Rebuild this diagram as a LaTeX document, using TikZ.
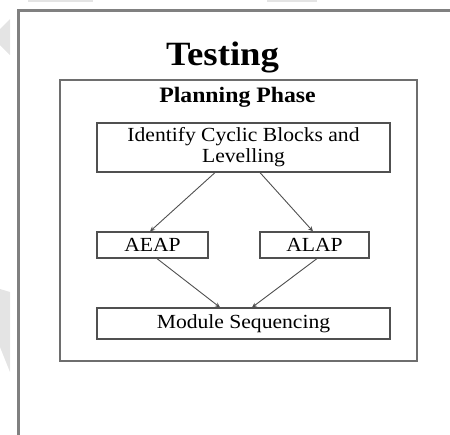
\documentclass[tikz,border=0pt]{standalone}
\usepackage{fontspec}
\setmainfont{Liberation Serif}[FakeStretch=1.08]
\usetikzlibrary{arrows.meta}
\definecolor{framegray}{RGB}{128,128,128}
\definecolor{phasegray}{RGB}{110,110,110}
\definecolor{boxgray}{RGB}{80,80,80}
\definecolor{markgray}{RGB}{228,228,228}
\tikzset{
  stagebox/.style={draw=boxgray,line width=1.2pt,inner sep=0pt,font=\fontsize{20}{21}\selectfont,align=center},
  flowarrow/.style={draw=boxgray,line width=0.9pt,-{Stealth[length=5pt,width=4.5pt]}}
}
\begin{document}
\begin{tikzpicture}[x=1pt,y=-1pt]
    \useasboundingbox (0,0) rectangle (450,434);
    \clip (0,0) rectangle (450,434);
    %Shape: Polygon [grey marks]
    \fill[markgray] (28,0) rectangle (93,2) ;
    \fill[markgray] (267,0) rectangle (317,2) ;
    \fill[markgray] (10,19) -- (0,29) -- (0,45) -- (10,55) -- cycle ;
    \fill[markgray] (0,289) -- (10,292) -- (10,372) -- (0,347) -- cycle ;
    %Shape: Rectangle [outer frame]
    \draw[framegray,line width=2.5pt] (18.5,440) -- (18.5,10.5) -- (460,10.5) ;
    % Text Node
    \node[anchor=base,font=\fontsize{34}{34}\selectfont\bfseries] (title) at (222.5,65) {Testing};
    %Shape: Rectangle [phase frame]
    \draw[phasegray,line width=1.5pt] (60,80) rectangle (417,361) ;
    % Text Node
    \node[anchor=base,font=\fontsize{22}{22}\selectfont\bfseries] (phase) at (237.5,102) {Planning Phase};
    % Boxes
    \node[stagebox,minimum width=293pt,minimum height=49pt] (ident) at (243.5,147.5) {Identify Cyclic Blocks and\\Levelling};
    \node[stagebox,minimum width=111pt,minimum height=26pt] (aeap) at (152.5,245) {AEAP};
    \node[stagebox,minimum width=109pt,minimum height=26pt] (alap) at (314.5,245) {ALAP};
    \node[stagebox,minimum width=293pt,minimum height=31pt] (modseq) at (243.5,323.5) {Module Sequencing};
    % Arrows
    \draw[flowarrow] ([xshift=-28.5pt]ident.south) -- ([xshift=-2.5pt]aeap.north) ;
    \draw[flowarrow] ([xshift=16.5pt]ident.south) -- ([xshift=-1.5pt]alap.north) ;
    \draw[flowarrow] ([xshift=4.5pt]aeap.south) -- ([xshift=-23.5pt]modseq.north) ;
    \draw[flowarrow] ([xshift=2.5pt]alap.south) -- ([xshift=8.5pt]modseq.north) ;
\end{tikzpicture}
\end{document}
